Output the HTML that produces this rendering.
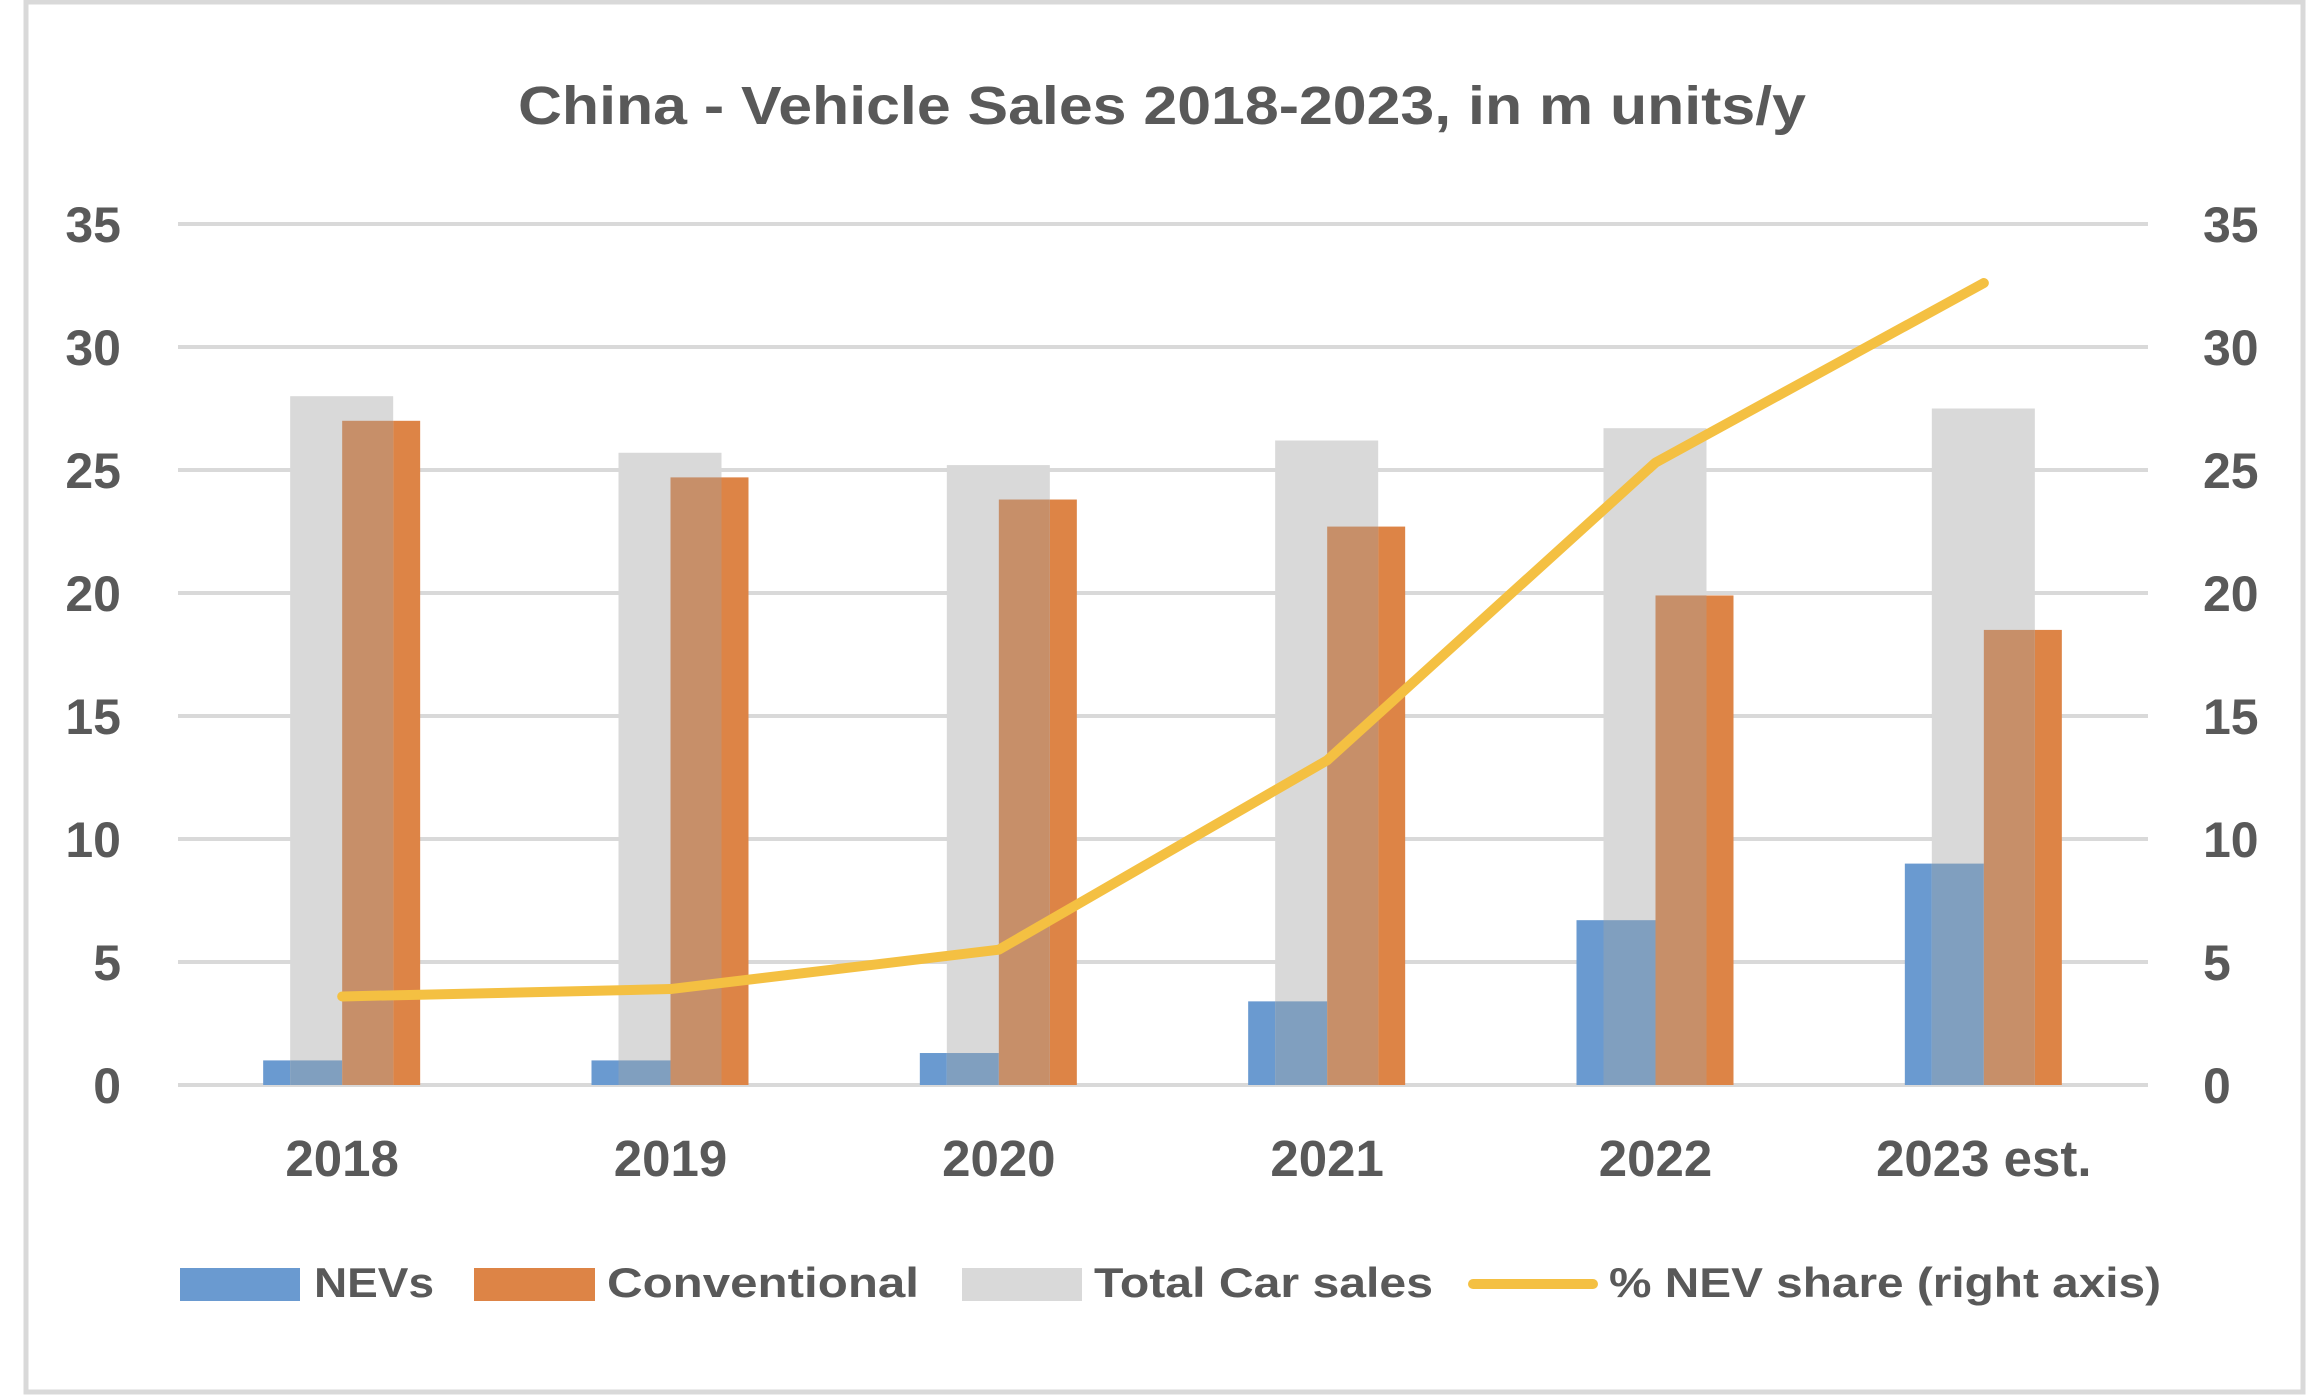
<!DOCTYPE html>
<html><head><meta charset="utf-8"><style>
html,body{margin:0;padding:0;background:#fff}
svg{display:block}
text{font-family:"Liberation Sans",sans-serif;font-weight:bold;fill:#595959}
</style></head><body>
<svg id="chart" width="2320" height="1398" viewBox="0 0 2320 1398" xmlns="http://www.w3.org/2000/svg">
<rect x="26" y="2" width="2277" height="1390" fill="#fff" stroke="#d9d9d9" stroke-width="5"/>
<text x="1162" y="124" text-anchor="middle" font-size="54" textLength="1288" lengthAdjust="spacingAndGlyphs">China - Vehicle Sales 2018-2023, in m units/y</text>
<g id="grid"></g><g id="bars"></g><g id="line"></g><g id="axes"></g>
<g>
<rect x="180" y="1268" width="120" height="33" fill="#6a9ad0"/>
<text x="314" y="1297" font-size="42" textLength="120" lengthAdjust="spacingAndGlyphs">NEVs</text>
<rect x="474" y="1268" width="121" height="33" fill="#dd8446"/>
<text x="607" y="1297" font-size="42" textLength="312" lengthAdjust="spacingAndGlyphs">Conventional</text>
<rect x="962" y="1268" width="120" height="33" fill="#d9d9d9"/>
<text x="1094" y="1297" font-size="42" textLength="339" lengthAdjust="spacingAndGlyphs">Total Car sales</text>
<line x1="1473" y1="1284" x2="1593" y2="1284" stroke="#f4c042" stroke-width="10" stroke-linecap="round"/>
<text x="1609" y="1297" font-size="42" textLength="552" lengthAdjust="spacingAndGlyphs">% NEV share (right axis)</text>
</g>
</svg>
<script>
const categories=["2018","2019","2020","2021","2022","2023 est."];
const nevs=[1.0,1.0,1.3,3.4,6.7,9.0];
const conventional=[27.0,24.7,23.8,22.7,19.9,18.5];
const totalSales=[28.0,25.7,25.2,26.2,26.7,27.5];
const nevShare=[3.6,3.9,5.5,13.2,25.3,32.6];
const yTicks=[0,5,10,15,20,25,30,35];

const NS="http://www.w3.org/2000/svg";
const L=178,R=2148,Y0=1085,Y35=224;
const y=v=>Y0-(v/35)*(Y0-Y35);
const band=(R-L)/categories.length;
const cx=i=>L+band*(i+0.5);
function mk(tag,attrs,parent){const e=document.createElementNS(NS,tag);for(const k in attrs)e.setAttribute(k,attrs[k]);document.getElementById(parent).appendChild(e);return e;}
yTicks.forEach(t=>{
  const g=mk('line',{x1:L,x2:R,y1:y(t),y2:y(t),stroke:'#d9d9d9','stroke-width':4},'grid');
  
  
  const a=mk('text',{x:121,y:y(t)+18,'text-anchor':'end','font-size':50},'axes');a.textContent=t;
  
  
  const b=mk('text',{x:2203,y:y(t)+18,'text-anchor':'start','font-size':50},'axes');b.textContent=t;
  
  
});
categories.forEach((c,i)=>{
  const x=cx(i);
  const gl=x-52,gr=x+51;
  const bt=y(nevs[i]),ot=y(conventional[i]),gt=y(totalSales[i]);
  const b=mk('rect',{x:x-79,y:bt,width:79,height:Y0-bt,fill:'#6a9ad0'},'bars');
  
  
  const o=mk('rect',{x:x,y:ot,width:78,height:Y0-ot,fill:'#dd8446'},'bars');
  
  
  const g=mk('rect',{x:gl,y:gt,width:gr-gl,height:Y0-gt,fill:'#d9d9d9'},'bars');
  
  
  const ob=mk('rect',{x:gl,y:bt,width:x-gl,height:Y0-bt,fill:'#809fbf'},'bars');
  
  
  const oo=mk('rect',{x:x,y:ot,width:gr-x,height:Y0-ot,fill:'#c78f69'},'bars');
  
  
  const t=mk('text',{x:x,y:1176,'text-anchor':'middle','font-size':51},'axes');t.textContent=c;
  
  
});
const pts=nevShare.map((v,i)=>cx(i)+','+y(v)).join(' ');
const pl=mk('polyline',{points:pts,fill:'none',stroke:'#f4c042','stroke-width':10,'stroke-linecap':'round','stroke-linejoin':'round'},'line');


</script>
</body></html>
